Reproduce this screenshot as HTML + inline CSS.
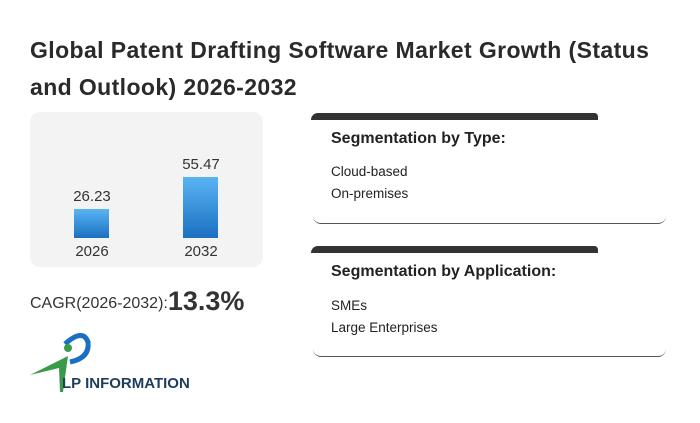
<!DOCTYPE html>
<html><head><meta charset="utf-8"><style>
body{margin:0;width:700px;height:423px;background:#fff;font-family:"Liberation Sans",Arial,sans-serif;position:relative;overflow:hidden}
.a{position:absolute}
h1{position:absolute;left:30px;top:32px;margin:0;font-size:23px;line-height:37px;font-weight:bold;color:#2a2a2a;width:690px;letter-spacing:0.4px;white-space:nowrap}
.box{left:30px;top:112px;width:233px;height:155px;background:#f3f3f3;border-radius:10px}
.bar{background:linear-gradient(#5ab4f3,#1a70c0);width:35px}
.lbl{font-size:15px;color:#333;width:60px;text-align:center}
.card{border-bottom:1.5px solid #555;border-bottom-right-radius:8px;border-bottom-left-radius:8px}
.strip{background:#333;height:7px;border-top-left-radius:12px;border-top-right-radius:6px}
.t{font-size:16px;font-weight:bold;color:#222}
.i{font-size:13.5px;color:#222}
</style></head><body>
<h1>Global Patent Drafting Software Market Growth (Status<br>and Outlook) 2026-2032</h1>
<div class="a box"></div>
<div class="a bar" style="left:74px;top:209px;height:29px"></div>
<div class="a bar" style="left:183px;top:177px;height:61px"></div>
<div class="a lbl" style="left:62px;top:188px">26.23</div>
<div class="a lbl" style="left:171px;top:156px">55.47</div>
<div class="a lbl" style="left:62px;top:243px">2026</div>
<div class="a lbl" style="left:171px;top:243px">2032</div>
<div class="a" style="left:30px;top:283px;font-size:16px;color:#333;line-height:36px">CAGR(2026-2032):<span style="font-size:27px;font-weight:bold;vertical-align:-2px">13.3%</span></div>
<svg class="a" style="left:28px;top:330px" width="170" height="66">
<path d="M37 14 Q55 -2 60 12 Q62 28 42 32" fill="none" stroke="#1a6fc0" stroke-width="5"/>
<circle cx="40" cy="18" r="4" fill="#3a9a4a"/>
<path d="M2 45 L40 26 L35 62 L32 62 L31 38 Z" fill="#3a9a4a"/>
<text x="34" y="58" font-family="Liberation Sans,sans-serif" font-weight="bold" font-size="15" fill="#1d3d5a">LP INFORMATION</text>
</svg>
<div class="a card" style="left:313px;top:113px;width:353px;height:110px"></div>
<div class="a strip" style="left:311px;top:113px;width:287px"></div>
<div class="a t" style="left:331px;top:130px">Segmentation by Type:</div>
<div class="a i" style="left:331px;top:164px">Cloud-based</div>
<div class="a i" style="left:331px;top:186px">On-premises</div>
<div class="a card" style="left:313px;top:246px;width:353px;height:110px"></div>
<div class="a strip" style="left:311px;top:246px;width:287px"></div>
<div class="a t" style="left:331px;top:263px">Segmentation by Application:</div>
<div class="a i" style="left:331px;top:298px">SMEs</div>
<div class="a i" style="left:331px;top:320px">Large Enterprises</div>
</body></html>
